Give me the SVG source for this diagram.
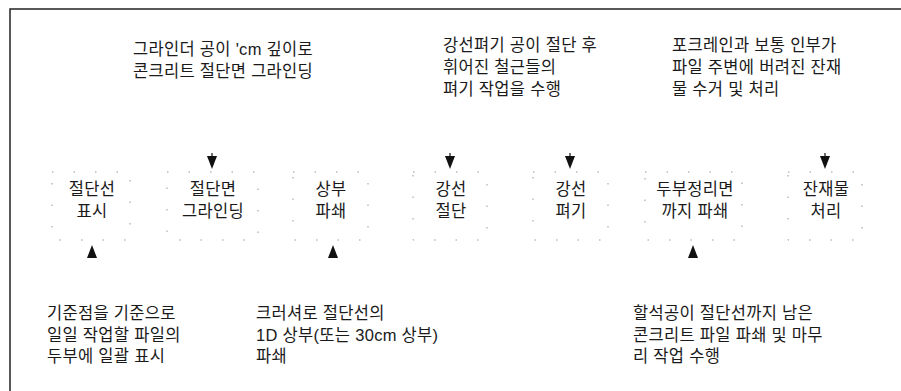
<svg xmlns="http://www.w3.org/2000/svg" width="901" height="391" viewBox="0 0 901 391">
<style>
  text { font-family: "Liberation Sans", "Noto Sans CJK KR", sans-serif; font-size: 16.5px; letter-spacing: 0.3px; fill: #1a1a1a; }
  .c { text-anchor: middle; }
  .box { fill: none; stroke: #999; stroke-width: 1; stroke-dasharray: 1.5 20; }
  .frame { fill: none; stroke: #222; stroke-width: 1.5; }
  .arr { fill: #111; stroke: none; }
  .stem { stroke: #111; stroke-width: 1.2; }
</style>
<rect width="901" height="391" fill="#fff"/>
<path class="frame" d="M10,391 V9 H901"/>

<g id="note-grinding">
  <text x="133" y="55">그라인더 공이  'cm 깊이로</text>
  <text x="133" y="77">콘크리트 절단면 그라인딩</text>
</g>
<g id="note-straighten">
  <text x="443" y="51">강선펴기 공이 절단 후</text>
  <text x="443" y="73">휘어진 철근들의</text>
  <text x="443" y="95">펴기 작업을 수행</text>
</g>
<g id="note-debris">
  <text x="672" y="51">포크레인과 보통 인부가</text>
  <text x="672" y="73">파일 주변에 버려진 잔재</text>
  <text x="672" y="95">물 수거 및 처리</text>
</g>
<g id="note-mark">
  <text x="47" y="319">기준점을 기준으로</text>
  <text x="47" y="341">일일 작업할 파일의</text>
  <text x="47" y="362">두부에 일괄 표시</text>
</g>
<g id="note-crush">
  <text x="256" y="319">크러셔로 절단선의</text>
  <text x="256" y="341">1D 상부(또는 30cm 상부)</text>
  <text x="256" y="362">파쇄</text>
</g>
<g id="note-finish">
  <text x="633" y="319">할석공이 절단선까지 남은</text>
  <text x="633" y="341">콘크리트 파일 파쇄 및 마무</text>
  <text x="633" y="362">리 작업 수행</text>
</g>

<g id="node-1">
  <rect class="box" x="52" y="172" width="78" height="68"/>
  <text class="c" x="92" y="195">절단선</text>
  <text class="c" x="92" y="217">표시</text>
</g>
<g id="node-2">
  <rect class="box" x="167" y="172" width="91" height="68"/>
  <text class="c" x="213" y="195">절단면</text>
  <text class="c" x="213" y="217">그라인딩</text>
</g>
<g id="node-3">
  <rect class="box" x="293" y="172" width="75" height="68"/>
  <text class="c" x="331" y="195">상부</text>
  <text class="c" x="331" y="217">파쇄</text>
</g>
<g id="node-4">
  <rect class="box" x="413" y="172" width="74" height="68"/>
  <text class="c" x="451" y="195">강선</text>
  <text class="c" x="451" y="217">절단</text>
</g>
<g id="node-5">
  <rect class="box" x="533" y="172" width="75" height="68"/>
  <text class="c" x="571" y="195">강선</text>
  <text class="c" x="571" y="217">펴기</text>
</g>
<g id="node-6">
  <rect class="box" x="645" y="172" width="97" height="68"/>
  <text class="c" x="695" y="195">두부정리면</text>
  <text class="c" x="695" y="217">까지 파쇄</text>
</g>
<g id="node-7">
  <rect class="box" x="788" y="172" width="74" height="68"/>
  <text class="c" x="826" y="195">잔재물</text>
  <text class="c" x="826" y="217">처리</text>
</g>

<g id="connectors">
  <line class="stem" x1="212" y1="153" x2="212" y2="157"/>
  <polygon class="arr" points="207,156 217,156 212,169"/>
  <line class="stem" x1="450" y1="153" x2="450" y2="157"/>
  <polygon class="arr" points="445,156 455,156 450,169"/>
  <line class="stem" x1="570" y1="153" x2="570" y2="157"/>
  <polygon class="arr" points="565,156 575,156 570,169"/>
  <line class="stem" x1="825" y1="153" x2="825" y2="157"/>
  <polygon class="arr" points="820,156 830,156 825,169"/>
  <polygon class="arr" points="92,245 87,258 97,258"/>
  <polygon class="arr" points="333,245 328,258 338,258"/>
  <polygon class="arr" points="693,245 688,258 698,258"/>
</g>
</svg>
